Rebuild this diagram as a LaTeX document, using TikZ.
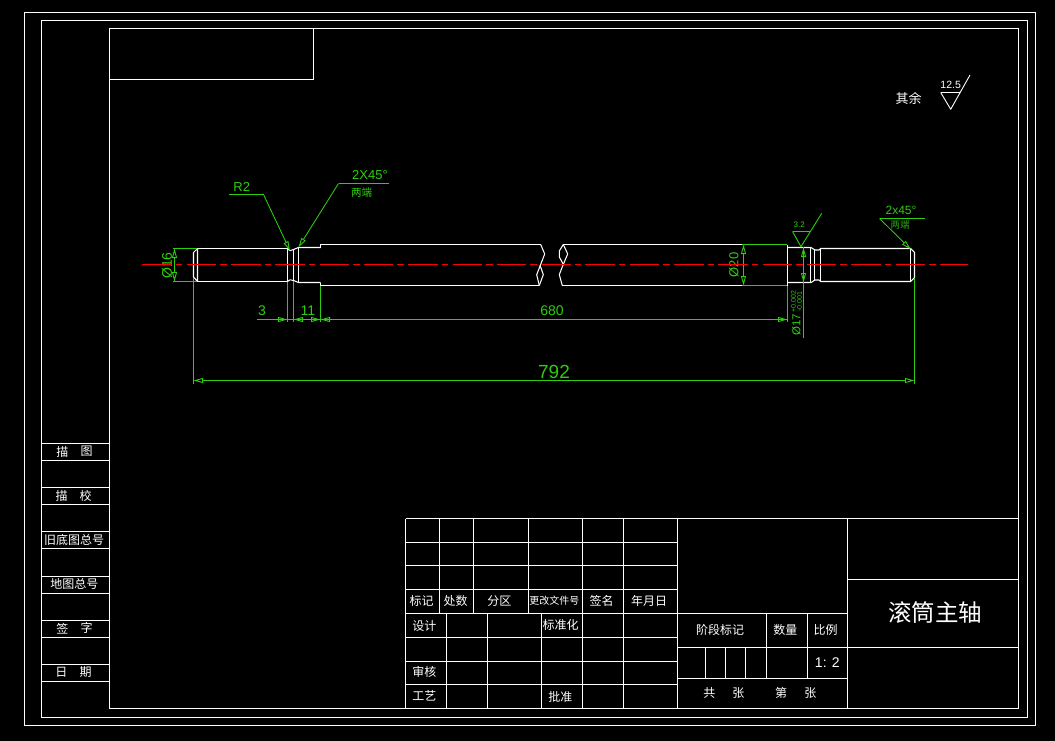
\documentclass[tikz,border=0pt]{standalone}
\usepackage{fontspec}
\setmainfont{Liberation Sans}
\newfontfamily\cjk{Noto Sans CJK SC}
\usetikzlibrary{arrows.meta}
\definecolor{cadgreen}{RGB}{45,205,15}
\definecolor{cadgreendim}{RGB}{40,170,15}
\tikzset{
  frame/.style={draw=white,line width=1pt,line join=miter},
  part/.style={draw=white,line width=1.05pt,line join=round},
  axis/.style={draw=red,line width=1.3pt,dash pattern=on 29.5pt off 4pt on 6.5pt off 4.3pt},
  dimln/.style={draw=cadgreen,line width=1pt},
  leader/.style={draw=cadgreen,line width=0.85pt},
  tip/.style={-{Triangle[open,length=9.5pt,width=5pt,line width=0.9pt]}},
  twotip/.style={{Triangle[open,length=9.5pt,width=5pt,line width=0.9pt]}-{Triangle[open,length=9.5pt,width=5pt,line width=0.9pt]}},
  lab/.style={text=white,font=\cjk\fontsize{12}{12}\selectfont,inner sep=0pt},
  dimtxt/.style={text=cadgreen,inner sep=0pt,font=\fontsize{14}{14}\selectfont},
  dimcjk/.style={text=cadgreen,inner sep=0pt,font=\cjk\fontsize{10.5}{10.5}\selectfont},
}
\begin{document}
\begin{tikzpicture}[x=1pt,y=-1pt]
\useasboundingbox (0,0) rectangle (1055,741);
\fill[black] (0,0) rectangle (1055,741);
% frames
\draw[frame] (24.5,12.5) rectangle (1035.5,725.5);
\draw[frame] (41.5,20.5) rectangle (1027.5,717.5);
\draw[frame] (109.5,28.5) rectangle (1018.5,708.5);
\draw[frame] (109.5,79.5) -- (313.5,79.5) -- (313.5,28.5);
% left strip
\foreach \y in {443.5,460.5,487.5,504.5,531.5,548.5,576.5,593.5,620.5,637.5,664.5,681.5}
  \draw[frame] (41.5,\y) -- (109.5,\y);
\node[lab] (l1a) at (62.3,451.5) {描};
\node[lab] (l1b) at (86.7,451.5) {图};
\node[lab] (l2a) at (61.7,496) {描};
\node[lab] (l2b) at (85.7,496) {校};
\node[lab] (l3) at (74,540) {旧底图总号};
\node[lab] (l4) at (74.3,584.3) {地图总号};
\node[lab] (l5a) at (62.3,628.3) {签};
\node[lab] (l5b) at (86.7,628.3) {字};
\node[lab] (l6a) at (61.3,672.3) {日};
\node[lab] (l6b) at (85.7,672.3) {期};
% title block
\foreach \y in {518.5,542.5,565.5,589.5,613.5,637.5,661.5,684.5}
  \draw[frame] (405.5,\y) -- (677.5,\y);
\draw[frame] (405.5,518.5) -- (405.5,708.5);
\foreach \x in {439.5,473.5,528.5}
  \draw[frame] (\x,518.5) -- (\x,613.5);
\foreach \x in {446.5,487.5,541.5}
  \draw[frame] (\x,613.5) -- (\x,708.5);
\foreach \x in {582.5,623.5}
  \draw[frame] (\x,518.5) -- (\x,708.5);
\draw[frame] (677.5,518.5) -- (677.5,708.5);
\draw[frame] (847.5,518.5) -- (847.5,708.5);
\draw[frame] (677.5,518.5) -- (1018.5,518.5);
\draw[frame] (847.5,579.5) -- (1018.5,579.5);
\draw[frame] (677.5,613.5) -- (847.5,613.5);
\draw[frame] (677.5,647.5) -- (1018.5,647.5);
\draw[frame] (677.5,678.5) -- (847.5,678.5);
\draw[frame] (766.5,613.5) -- (766.5,678.5);
\draw[frame] (807.5,613.5) -- (807.5,678.5);
\foreach \x in {705.5,725.5,745.5}
  \draw[frame] (\x,647.5) -- (\x,678.5);
\node[lab] (t1) at (421.7,601.3) {标记};
\node[lab] (t2) at (455.7,601.3) {处数};
\node[lab] (t3) at (499.3,601.3) {分区};
\node[lab,font=\cjk\fontsize{10}{10}\selectfont] (t4) at (554.3,601) {更改文件号};
\node[lab] (t5) at (601.7,601.3) {签名};
\node[lab] (t6) at (649,601.3) {年月日};
\node[lab] (t7) at (424.3,625.7) {设计};
\node[lab] (t8) at (560.7,625.3) {标准化};
\node[lab] (t9) at (424.3,672.3) {审核};
\node[lab] (t10) at (424.3,696) {工艺};
\node[lab] (t11) at (560.3,696.5) {批准};
\node[lab] (t12) at (720,630) {阶段标记};
\node[lab] (t13) at (785.3,630) {数量};
\node[lab] (t14) at (825.7,630) {比例};
\node[lab,font=\fontsize{14}{14}\selectfont] (t15) at (827.3,662.7) {1: 2};
\node[lab] (t16) at (709.3,693.3) {共};
\node[lab] (t17) at (738.3,693.3) {张};
\node[lab] (t18) at (781,693.3) {第};
\node[lab] (t19) at (810.3,693.3) {张};
\node[lab,font=\cjk\fontsize{23.5}{23.5}\selectfont] (title) at (935,612.5) {滚筒主轴};
% general roughness
\node[lab,font=\cjk\fontsize{13}{13}\selectfont] (rest) at (908.5,98.5) {其余};
\node[lab,font=\fontsize{10.5}{10.5}\selectfont] (r125) at (950.7,84.5) {12.5};
\draw[part,line width=0.9pt] (940.7,92.5) -- (960,92.5);
\draw[part,line width=0.9pt] (940.7,92.5) -- (950.7,109.3) -- (970,75);
% shaft: left journal
\draw[part] (197.5,248.5) -- (287.5,248.5) -- (287.5,281.5) -- (197.5,281.5);
\draw[part] (197.5,248.5) -- (193.5,252.5) -- (193.5,277) -- (197.5,281.5) -- cycle;
% groove and collar
\draw[part] (287.5,248.5) -- (290,250.7) -- (293.5,249.5) -- (298.5,247.5) -- (320.5,247.5);
\draw[part] (287.5,281.5) -- (290,279.8) -- (293.5,280.5) -- (298.5,282.5) -- (320.5,282.5);
\draw[part] (293.5,249.5) -- (293.5,280.5);
\draw[part] (298.5,247.5) -- (298.5,282.5);
% main body, left of break
\draw[part] (320.5,247.5) -- (320.5,244.5) -- (540.7,244.5);
\draw[part] (320.5,282.5) -- (320.5,285.5) -- (539.3,285.5);
\draw[part] (540.7,244.5) -- (544.7,254) -- (536.7,274.7) -- (539.3,285.5);
\draw[part] (540,265) -- (543.3,274.7) -- (539.3,285.5);
% main body, right of break
\draw[part] (563.3,244.5) -- (741.5,244.5);
\draw[part] (562.3,285.5) -- (741.5,285.5);
\draw[part] (563.3,244.5) -- (567.7,254) -- (563.3,264.3) -- (559.3,274.7) -- (562.3,285.5);
\draw[part] (563.3,244.5) -- (559.3,251) -- (559.3,257) -- (563.3,264.3);
% right bearing seat, groove, journal
\draw[part] (787.5,244.5) -- (787.5,285.5);
\draw[part] (787.5,247.5) -- (811,247.5) -- (815,250) -- (819,250) -- (820.5,248.5) -- (910.5,248.5) -- (914.5,252.5) -- (914.5,277.5) -- (910.5,281.5) -- (820.5,281.5) -- (819,280) -- (815,280) -- (811,282.5) -- (787.5,282.5);
\draw[part] (810.5,247.5) -- (810.5,282.5);
\draw[part] (814.5,250) -- (814.5,280);
\draw[part] (820.5,248.5) -- (820.5,281.5);
\draw[part] (910.5,248.5) -- (910.5,281.5);
% extension lines
\draw[dimln] (172.5,248.5) -- (197,248.5);
\draw[dimln] (172.5,281.5) -- (197,281.5);
\draw[dimln] (193.5,278) -- (193.5,384);
\draw[dimln] (914.5,278) -- (914.5,384);
\draw[dimln] (287.5,282) -- (287.5,322);
\draw[dimln] (293.5,281) -- (293.5,322);
\draw[dimln] (320.5,286) -- (320.5,322);
\draw[dimln] (741.5,244.5) -- (787,244.5);
\draw[dimln] (741.5,285.5) -- (787,285.5);
\draw[dimln] (787.5,286) -- (787.5,322);
% dimensions
\draw[dimln,twotip] (174.5,248.5) -- (174.5,281.5);
\draw[dimln,twotip] (743.5,244.5) -- (743.5,285.5);
\draw[dimln,twotip] (193.5,380.5) -- (914.5,380.5);
\draw[dimln] (257,319.5) -- (787,319.5);
\draw[dimln,tip] (270,319.5) -- (287.5,319.5);
\draw[dimln,tip] (306,319.5) -- (293.5,319.5);
\draw[dimln,tip] (306,319.5) -- (320.5,319.5);
\draw[dimln,twotip] (320.5,319.5) -- (787.5,319.5);
\draw[dimln] (803.5,247) -- (803.5,337.5);
\draw[dimln,twotip] (803.5,247.5) -- (803.5,282.5);
% dimension texts
\node[dimtxt,rotate=90] (d16) at (167,265.5) {Ø16};
\node[dimtxt,rotate=90,font=\fontsize{13}{13}\selectfont] (d20) at (734,265) {Ø20};
\node[dimtxt] (d3) at (262,311) {3};
\node[dimtxt] (d11) at (308,311) {11};
\node[dimtxt] (d680) at (552,311) {680};
\node[dimtxt,font=\fontsize{19}{19}\selectfont] (d792) at (554,372) {792};
\node[dimtxt,rotate=90,font=\fontsize{11.5}{11.5}\selectfont] (d17) at (796.5,325) {Ø17};
\node[dimtxt,rotate=90,font=\fontsize{7}{7}\selectfont] (tolu) at (793.5,301.5) {+0.002};
\node[dimtxt,rotate=90,font=\fontsize{7}{7}\selectfont] (toll) at (799.5,301.5) {-0.001};
% R2 leader
\coordinate (r2a) at (229,194.5);
\coordinate (r2b) at (263.5,194.5);
\coordinate (r2c) at (290,250.7);
\draw[leader] (r2a) -- (r2b);
\draw[leader,tip] (r2b) -- (r2c);
\node[dimtxt,font=\fontsize{13}{13}\selectfont] (r2) at (241.7,186.5) {R2};
% left chamfer leader
\coordinate (c1a) at (388.5,183.5);
\coordinate (c1b) at (338.5,183.5);
\coordinate (c1c) at (298.5,247.3);
\draw[leader] (c1a) -- (c1b);
\draw[leader,tip] (c1b) -- (c1c);
\node[dimtxt,font=\fontsize{13}{13}\selectfont] (c1) at (370,175) {2X45°};
\node[dimcjk] (c1e) at (361.7,192.7) {两端};
% right chamfer leader
\coordinate (c2a) at (925,218.5);
\coordinate (c2b) at (879.5,218.5);
\coordinate (c2c) at (910.7,249.3);
\draw[leader] (c2a) -- (c2b);
\draw[leader,tip] (c2b) -- (c2c);
\node[dimtxt,font=\fontsize{12}{12}\selectfont] (c2) at (901,210) {2x45°};
\node[dimcjk,text=cadgreendim,font=\cjk\fontsize{9.5}{9.5}\selectfont] (c2e) at (900,224.5) {两端};
% roughness 3.2
\draw[leader,line width=0.9pt] (792.5,231.5) -- (810.7,231.5);
\draw[leader,line width=0.9pt] (792.5,231.5) -- (801,246.7) -- (821.7,213.3);
\node[dimtxt,font=\fontsize{8}{8}\selectfont] (r32) at (799.3,225) {3.2};
% centre line
\draw[axis] (142.4,264.5) -- (968.3,264.5);
\end{tikzpicture}
\end{document}
